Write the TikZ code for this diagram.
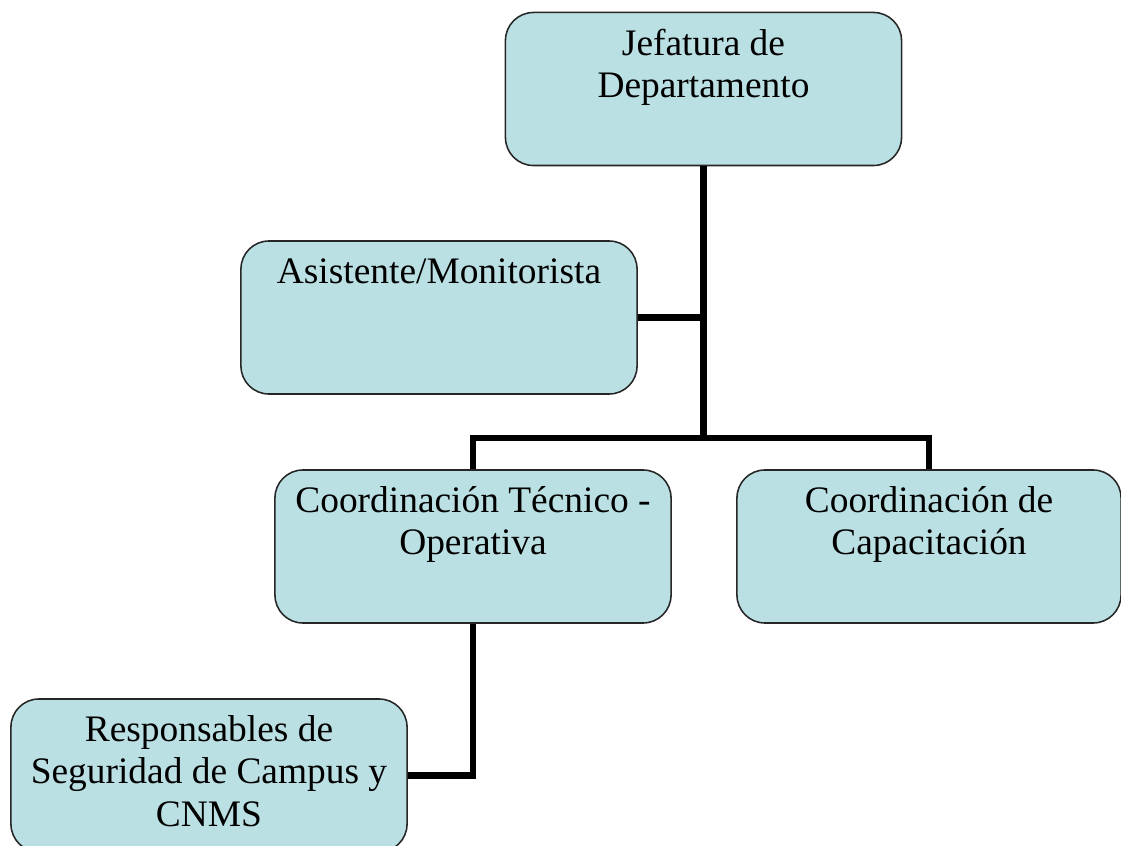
\documentclass[tikz,border=0pt]{standalone}
\usepackage{fontspec}
\setmainfont{Liberation Serif}
\definecolor{boxfill}{RGB}{187,224,227}
\tikzset{
  orgbox/.style={draw=black!85, line width=1.1pt, fill=boxfill,
    rounded corners=0.7cm, inner sep=0pt,
    minimum width=9.9cm, minimum height=3.825cm},
  link/.style={line width=4.3pt}
}
\newcommand{\boxtext}[2][9.9cm]{\parbox[c][3.825cm][t]{#1}{\centering
  \fontsize{26.6pt}{30pt}\selectfont\rule{0pt}{1.07cm}#2}}
\begin{document}
\begin{tikzpicture}[x=0.025cm, y=-0.025cm]
  \clip (0,0) rectangle (1121,846);
  \draw
    (703.5,89) node[orgbox] (jefe){\boxtext{Jefatura de\\Departamento}}
    (439,317.5) node[orgbox] (asist){\boxtext{Asistente/Monitorista}}
    (473,546.5) node[orgbox] (tecnica){\boxtext{Coordinación Técnico -\\Operativa}}
    (929,546.5) node[orgbox, minimum width=9.6cm] (capac){\boxtext[9.6cm]{Coordinación de\\Capacitación}}
    (209,775.5) node[orgbox] (resp){\boxtext{Responsables de\\Seguridad de Campus y\\CNMS}};
  \coordinate (bus) at (703.5,438);
  \begin{scope}[link]
    \draw (jefe.south) -- (bus);
    \draw (asist.east) -- (asist.east -| jefe.south);
    \draw (tecnica.north) |- (bus) -| (capac.north);
    \draw (tecnica.south) |- (resp.east);
  \end{scope}
\end{tikzpicture}
\end{document}
